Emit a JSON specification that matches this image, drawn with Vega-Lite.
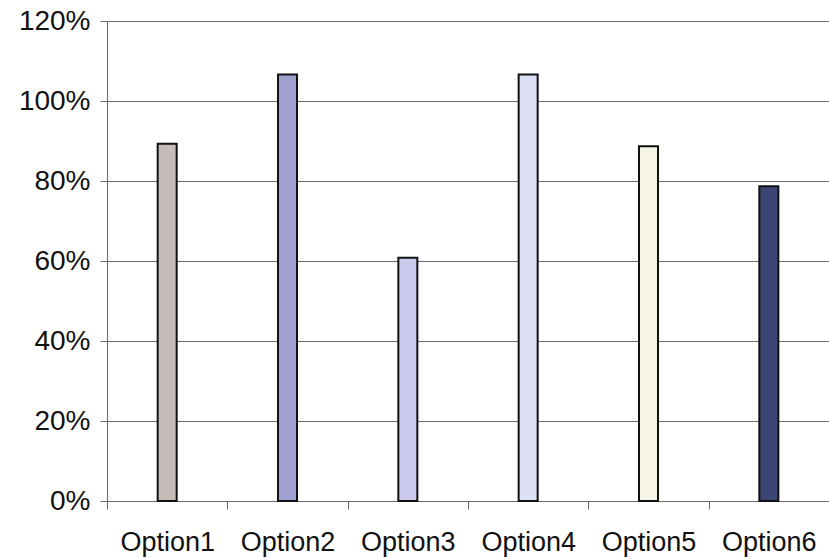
{
  "$schema": "https://vega.github.io/schema/vega-lite/v6.json",
  "width": 722,
  "height": 480,
  "autosize": {"type": "none"},
  "padding": {"left": 107, "top": 21, "right": 0, "bottom": 57},
  "background": "white",
  "data": {
    "values": [
      {"option": "Option1", "share": 0.893, "color": "#c6bbb7"},
      {"option": "Option2", "share": 1.066, "color": "#a29fd2"},
      {"option": "Option3", "share": 0.608, "color": "#cbcaee"},
      {"option": "Option4", "share": 1.066, "color": "#dde0f6"},
      {"option": "Option5", "share": 0.887, "color": "#f6f3e7"},
      {"option": "Option6", "share": 0.787, "color": "#3b4675"}
    ]
  },
  "config": {
    "view": {"stroke": null},
    "font": "Liberation Sans"
  },
  "mark": {"type": "bar", "width": 19, "stroke": "#111111", "strokeWidth": 2},
  "encoding": {
    "x": {
      "field": "option",
      "type": "nominal",
      "sort": null,
      "scale": {"paddingInner": 0, "paddingOuter": 0},
      "axis": {
        "title": null,
        "labelAngle": 0,
        "labelFont": "Liberation Sans",
        "labelFontSize": 27,
        "labelColor": "#111111",
        "labelPadding": 20,
        "tickBand": "extent",
        "tickSize": 8,
        "tickColor": "#6a6a6a",
        "domainColor": "#6a6a6a",
        "grid": false
      }
    },
    "y": {
      "field": "share",
      "type": "quantitative",
      "scale": {"domain": [0, 1.2], "nice": false},
      "axis": {
        "title": null,
        "format": ".0%",
        "values": [0, 0.2, 0.4, 0.6, 0.8, 1.0, 1.2],
        "labelFont": "Liberation Sans",
        "labelFontSize": 28,
        "labelColor": "#111111",
        "labelPadding": 10,
        "tickSize": 7,
        "tickColor": "#6a6a6a",
        "domainColor": "#6a6a6a",
        "grid": true,
        "gridColor": "#6a6a6a",
        "gridWidth": 1
      }
    },
    "fill": {"field": "color", "type": "nominal", "scale": null, "legend": null}
  }
}
